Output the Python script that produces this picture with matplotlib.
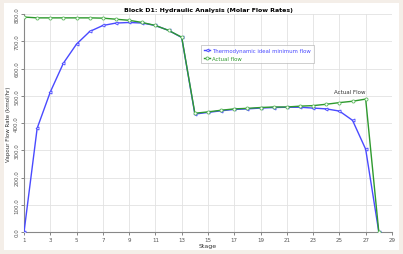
import matplotlib
matplotlib.use("Agg")
import matplotlib.pyplot as plt
from matplotlib.patches import Rectangle

# stage numbers and vapour flow rates (kmol/hr)
stages = list(range(1, 29))
ideal_min_flow = [0, 381, 514, 620, 690, 736, 758, 767, 769, 767, 758, 740, 714,
                  433, 439, 445, 450, 452, 455, 457, 458, 458, 455, 452, 444, 410, 304, 0]
actual_flow = [789, 786, 786, 786, 786, 786, 785, 781, 777, 769, 758, 740, 715,
               436, 441, 447, 452, 454, 457, 459, 459, 462, 464, 469, 475, 480, 488, 0]

x_ticks = list(range(1, 30, 2))
y_ticks = [0, 100, 200, 300, 400, 500, 600, 700, 800]

fig = plt.figure(figsize=(4.03, 2.55), dpi=100)
fig.patch.set_facecolor("#f4eee8")
fig.add_artist(Rectangle((0.01, 0.015), 0.98, 0.97, transform=fig.transFigure,
                         facecolor="white", edgecolor="none", zorder=-10))

ax = fig.add_axes([0.0596, 0.086, 0.913, 0.855])
ax.set_facecolor("white")

ax.plot(stages, ideal_min_flow, color="#4a4aff", lw=1.0, marker="<", ms=2.2,
        mfc="white", mec="#4a4aff", mew=0.6, label="Thermodynamic ideal minimum flow", zorder=3)
ax.plot(stages, actual_flow, color="#2e9a2e", lw=1.0, marker="o", ms=2.2,
        mfc="white", mec="#5cb85c", mew=0.6, label="Actual flow", zorder=4)

ax.text(25.8, 505, "Actual Flow", fontsize=4, ha="center", va="bottom", color="#333333")

ax.set_xlim(1, 29)
ax.set_ylim(0, 800)
ax.set_xticks(x_ticks)
ax.set_yticks(y_ticks)
ax.set_yticklabels([f"{v:.1f}" for v in y_ticks], rotation=90, va="center")
ax.tick_params(labelsize=4, length=2, width=0.5, colors="#555555", pad=1.5)
ax.grid(True, color="#e2e2e2", lw=0.6)
ax.set_axisbelow(True)
for side in ["top", "right"]:
    ax.spines[side].set_visible(False)
for side in ["left", "bottom"]:
    ax.spines[side].set_color("#888888")
    ax.spines[side].set_linewidth(0.8)

ax.set_xlabel("Stage", fontsize=4.5, labelpad=1, color="#333333")
ax.set_ylabel("Vapour Flow Rate (kmol/hr)", fontsize=4, labelpad=2, color="#333333")
ax.set_title("Block D1: Hydraulic Analysis (Molar Flow Rates)", fontsize=4.5,
             fontweight="bold", pad=2)

leg = ax.legend(loc="upper left", bbox_to_anchor=(0.475, 0.87), fontsize=3.9,
                frameon=True, fancybox=False, borderpad=0.5, handlelength=1.1,
                handletextpad=0.4, labelspacing=0.5)
leg.get_frame().set_edgecolor("#aaaaaa")
leg.get_frame().set_linewidth(0.5)
for txt, c in zip(leg.get_texts(), ["#4a4aff", "#2e9a2e"]):
    txt.set_color(c)

fig.savefig("out.png", dpi=100, facecolor=fig.get_facecolor())
